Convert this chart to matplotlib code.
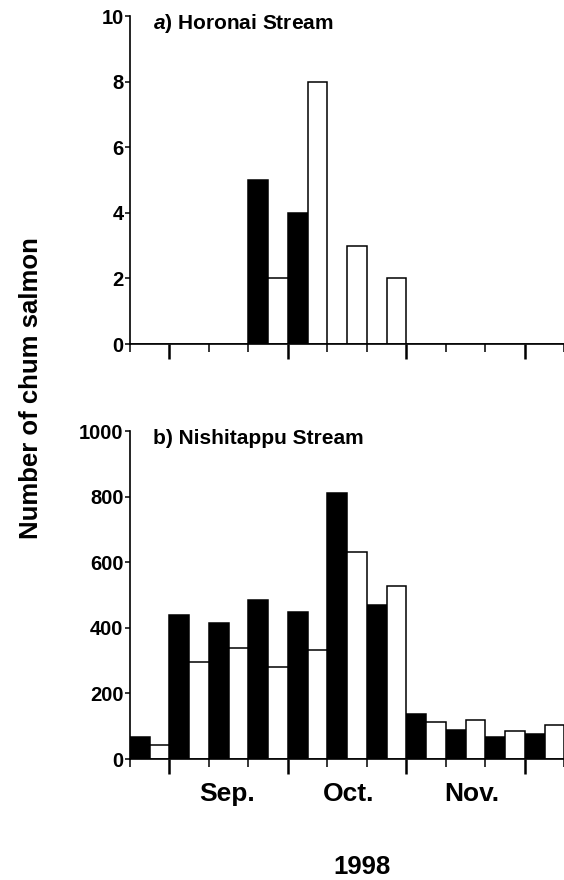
import matplotlib
matplotlib.use('Agg')
import matplotlib.pyplot as plt
import numpy as np

# 10-day periods from late Aug to early Dec 1998, two half-periods each
# (filled bar = first half, open bar = second half)
horonai_filled = [0, 0, 0, 5, 4, 0, 0, 0, 0, 0, 0]
horonai_open = [0, 0, 0, 2, 8, 3, 2, 0, 0, 0, 0]
nishi_filled = [66, 438, 415, 486, 447, 812, 469, 138, 87, 68, 77]
nishi_open = [42, 297, 338, 279, 333, 630, 528, 114, 118, 85, 104]

month_labels = ['Sep.', 'Oct.', 'Nov.']
month_centers = [4.9, 11.1, 17.3]
month_ticks = [2, 8, 14, 20]
decade_ticks = [0, 4, 6, 10, 12, 16, 18, 22]

plt.rcParams['font.family'] = ['Liberation Sans', 'DejaVu Sans']
plt.rcParams['font.weight'] = 'bold'
plt.rcParams['mathtext.fontset'] = 'custom'
plt.rcParams['mathtext.it'] = 'Liberation Sans:italic:bold'
plt.rcParams['mathtext.rm'] = 'Liberation Sans:bold'

fig = plt.figure(figsize=(5.64, 8.8), dpi=100)
ax_a = fig.add_axes([0.2305, 0.609, 0.77, 0.3727])
ax_b = fig.add_axes([0.2305, 0.1375, 0.77, 0.3727])


def draw_panel(ax, filled, opened, ymax, ystep, title):
    n = len(filled)
    x = np.arange(n) * 2
    ax.bar(x + 0.5, filled, width=1.0, color='black', edgecolor='black', linewidth=1.1)
    ax.bar(x + 1.5, opened, width=1.0, color='white', edgecolor='black', linewidth=1.1)
    ax.set_xlim(0, 2 * n)
    ax.set_ylim(0, ymax)
    ax.set_yticks(np.arange(0, ymax + 1, ystep))
    ax.set_xticks(month_ticks)
    ax.set_xticks(decade_ticks, minor=True)
    ax.set_xticklabels([])
    for s in ['top', 'right']:
        ax.spines[s].set_visible(False)
    for s in ['left', 'bottom']:
        ax.spines[s].set_linewidth(1.2)
    ax.tick_params(axis='y', direction='out', length=3.6, width=1.1, labelsize=14.5, pad=1)
    ax.tick_params(axis='x', which='major', direction='out', length=10.5, width=1.8)
    ax.tick_params(axis='x', which='minor', direction='out', length=5.5, width=1.1)
    ax.text(1.16, 0.978, title, transform=ax.get_yaxis_transform() if False else
            matplotlib.transforms.blended_transform_factory(ax.transData, ax.transAxes),
            fontsize=15, fontweight='bold', va='center', ha='left')


draw_panel(ax_a, horonai_filled, horonai_open, 10, 2, r'$\mathit{a}$) Horonai Stream')
draw_panel(ax_b, nishi_filled, nishi_open, 1000, 200, 'b) Nishitappu Stream')

for lab, pos in zip(month_labels, month_centers):
    ax_b.text(pos, -0.107, lab, transform=ax_b.get_xaxis_transform(),
              fontsize=19, fontweight='bold', ha='center', va='center')

fig.text(362 / 564, 1 - 867 / 880, '1998', fontsize=18.5, fontweight='bold',
         ha='center', va='center')
fig.text(31 / 564, 1 - 388 / 880, 'Number of chum salmon', fontsize=18.5,
         fontweight='bold', rotation=90, ha='center', va='center')

fig.savefig('out.png', dpi=100)
